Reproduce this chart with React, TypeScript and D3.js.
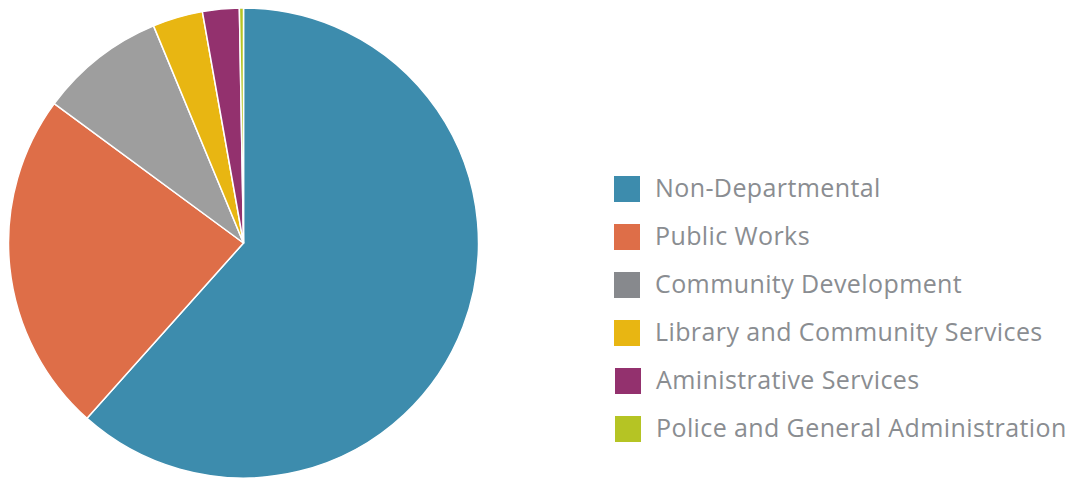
import React from "react";
import * as d3 from "d3";

const categories = [
  "Non-Departmental",
  "Public Works",
  "Community Development",
  "Library and Community Services",
  "Aministrative Services",
  "Police and General Administration",
];
const values = [61.6, 23.5, 8.65, 3.45, 2.52, 0.28];
const sliceColors = ["#3d8cad", "#de6e48", "#9e9e9e", "#e8b612", "#93316e", "#b5c424"];
const legendColors = ["#3d8cad", "#de6e48", "#87898d", "#e8b612", "#93316e", "#b5c424"];

export default function App() {
  const width = 1070;
  const height = 479;
  const cx = 243.5;
  const cy = 243;
  const r = 235;
  const pie = d3.pie<number>().sort(null).value((d) => d)(values);
  const arc = d3.arc<d3.PieArcDatum<number>>().innerRadius(0).outerRadius(r);
  const legendY = d3.scaleLinear().domain([0, 5]).range([176, 416]);
  return (
    <svg
      width={width}
      height={height}
      style={{ position: "absolute", left: 0, top: 0 }}
    >
      <g transform={`translate(${cx},${cy})`}>
        {pie.map((p, i) => (
          <path
            key={i}
            d={arc(p) || ""}
            fill={sliceColors[i]}
            stroke="#ffffff"
            strokeWidth={1.5}
            strokeLinejoin="round"
          />
        ))}
      </g>
      {categories.map((c, i) => {
        const y = legendY(i);
        const dx = i >= 4 ? 1 : 0;
        return (
          <g key={c}>
            <rect x={614 + dx} y={y} width={26} height={26} fill={legendColors[i]} />
            <text
              x={655 + dx}
              y={y + 21}
              fontFamily="'Open Sans', Lato, sans-serif"
              fontSize={25}
              letterSpacing={0.4}
              fill="#8a8d91"
            >
              {c}
            </text>
          </g>
        );
      })}
    </svg>
  );
}
